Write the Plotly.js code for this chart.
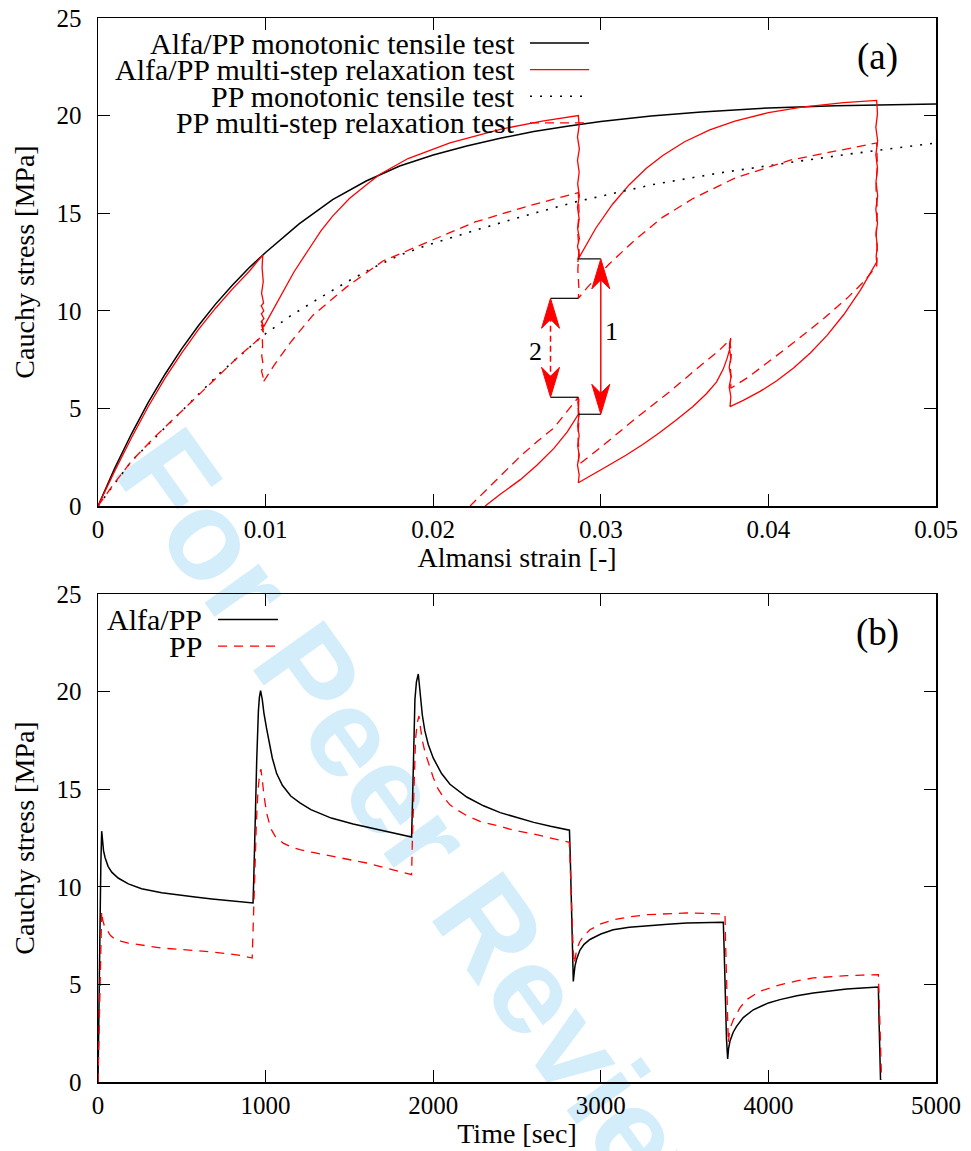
<!DOCTYPE html>
<html>
<head>
<meta charset="utf-8">
<script src="https://cdn.plot.ly/plotly-3.0.1.min.js"></script>
<style>
  html, body { margin: 0; padding: 0; background: #fff; }
  #chart { width: 971px; height: 1151px; }
</style>
</head>
<body>
<div id="chart"></div>
<script>
// ---------- (a) Cauchy stress vs Almansi strain ----------
const alfaMonoStrain = [0, 0.001, 0.002, 0.003, 0.004, 0.005, 0.006, 0.007, 0.008, 0.009, 0.010, 0.012, 0.014,
  0.016, 0.018, 0.020, 0.022, 0.024, 0.026, 0.028, 0.030, 0.033, 0.036, 0.040, 0.044, 0.048, 0.050];
const alfaMonoStress = [0, 1.94, 3.70, 5.31, 6.75, 8.06, 9.25, 10.33, 11.30, 12.19, 12.99, 14.45, 15.70,
  16.65, 17.42, 17.98, 18.44, 18.84, 19.18, 19.46, 19.70, 19.98, 20.19, 20.39, 20.50, 20.57, 20.60];

// loading / holding path of the multi-step test; the holds are noisy, hence the small strain scatter
const alfaRelaxStrain = [
  0, 0.001, 0.002, 0.003, 0.004, 0.005, 0.006, 0.007, 0.008, 0.009, 0.00983,
  0.00979, 0.00986, 0.00976, 0.00988, 0.00974, 0.00989, 0.00975, 0.00990, 0.00974, 0.00989, 0.00976, 0.00988,
  0.00975, 0.00987, 0.00978, 0.00986, 0.00980, 0.00990,
  0.0104, 0.0110, 0.0117, 0.0125, 0.0133, 0.0140, 0.0150, 0.0160, 0.0168, 0.0185, 0.0210, 0.0240, 0.0265, 0.02866,
  0.02871, 0.02861, 0.02872, 0.02861, 0.02871, 0.02862, 0.02872, 0.02861, 0.02871, 0.02862, 0.02872, 0.02861,
  0.02871, 0.02862, 0.02870, 0.02863, 0.02869, 0.02866,
  0.0297, 0.0307, 0.0317, 0.0327, 0.0337, 0.0350, 0.0365, 0.0380, 0.0400, 0.0420, 0.0445, 0.04646,
  0.04651, 0.04641, 0.04652, 0.04641, 0.04651, 0.04642, 0.04652, 0.04641, 0.04651, 0.04642, 0.04650, 0.04643,
  0.04646,
  0.0455, 0.0445, 0.0435, 0.0425, 0.0415, 0.0405, 0.0395, 0.0385, 0.03771,
  0.03776, 0.03766, 0.03777, 0.03766, 0.03776, 0.03767, 0.03775, 0.03768, 0.03771,
  0.03755, 0.0373, 0.0369, 0.0363, 0.0355, 0.0345, 0.0335, 0.0325, 0.0315, 0.0305, 0.0295, 0.02866,
  0.02871, 0.02861, 0.02871, 0.02862, 0.02871, 0.02862, 0.02870, 0.02863, 0.02869, 0.02866,
  0.0280, 0.0272, 0.0262, 0.0252, 0.0240, 0.0231];
const alfaRelaxStress = [
  0, 1.80, 3.50, 5.10, 6.55, 7.85, 9.05, 10.12, 11.10, 12.00, 12.85,
  12.2, 11.5, 10.9, 10.4, 10.25, 10.0, 9.85, 9.6, 9.45, 9.2, 9.05, 8.9,
  9.3, 9.0, 9.5, 9.15, 9.35, 9.2,
  10.0, 10.95, 12.0, 13.05, 14.1, 14.85, 15.75, 16.45, 16.98, 17.8, 18.6, 19.3, 19.72, 20.0,
  19.5, 18.9, 18.3, 17.7, 17.1, 16.5, 15.9, 15.3, 14.7, 14.2, 13.7, 13.3,
  12.9, 12.6, 12.9, 12.5, 12.8, 12.66,
  14.23, 15.46, 16.46, 17.29, 17.96, 18.66, 19.27, 19.72, 20.15, 20.43, 20.66, 20.78,
  20.1, 19.4, 18.7, 18.0, 17.3, 16.6, 15.9, 15.2, 14.5, 13.9, 13.3, 12.8,
  12.5,
  11.07, 9.81, 8.74, 7.84, 7.07, 6.42, 5.87, 5.41, 5.09,
  5.6, 6.1, 6.6, 7.1, 7.6, 8.1, 8.6, 8.3, 8.1,
  7.6, 7.0, 6.35, 5.75, 5.1, 4.4, 3.75, 3.15, 2.6, 2.1, 1.6, 1.19,
  1.6, 2.1, 2.6, 3.1, 3.6, 4.1, 4.7, 5.3, 5.5, 4.70,
  3.8, 2.95, 2.1, 1.35, 0.6, 0];

const ppMonoStrain = [0, 0.002, 0.0048, 0.0072, 0.0098, 0.0115, 0.0133, 0.0150, 0.0164, 0.0180, 0.0196,
  0.0228, 0.0256, 0.0286, 0.0330, 0.0370, 0.0409, 0.0450, 0.0500];
const ppMonoStress = [0, 2.30, 4.70, 6.75, 8.70, 9.75, 10.70, 11.55, 12.20, 12.85, 13.35,
  14.20, 14.90, 15.60, 16.45, 17.05, 17.55, 18.05, 18.60];

const ppRelaxStrain = [
  0, 0.001, 0.002, 0.0034, 0.0048, 0.0060, 0.0072, 0.0085, 0.0098,
  0.00982, 0.00977, 0.00986, 0.00976, 0.00985, 0.00980, 0.0099,
  0.0105, 0.0115, 0.0128, 0.0148, 0.0170, 0.0196, 0.0225, 0.0258, 0.02866,
  0.02870, 0.02862, 0.02870, 0.02863, 0.02869, 0.02866,
  0.0292, 0.0305, 0.0320, 0.0337, 0.0355, 0.0380, 0.0413, 0.0440, 0.04646,
  0.04650, 0.04642, 0.04650, 0.04643, 0.04650, 0.04646,
  0.0457, 0.0447, 0.0433, 0.0417, 0.0401, 0.0388, 0.03775,
  0.03778, 0.03771, 0.03779, 0.03772, 0.03775,
  0.0371, 0.0361, 0.0341, 0.0321, 0.0302, 0.02866,
  0.02870, 0.02863, 0.02870, 0.02864, 0.02866,
  0.0272, 0.0262, 0.0252, 0.0242, 0.0232, 0.0222];
const ppRelaxStress = [
  0, 1.20, 2.30, 3.55, 4.70, 5.70, 6.70, 7.75, 8.70,
  8.2, 7.7, 7.2, 6.9, 6.6, 6.35, 6.4,
  7.2, 8.4, 9.75, 11.2, 12.55, 13.5, 14.55, 15.4, 16.05,
  15.1, 14.1, 13.1, 12.1, 11.2, 10.64,
  11.2, 12.4, 13.6, 14.8, 15.75, 16.8, 17.72, 18.2, 18.6,
  17.5, 16.3, 15.1, 14.0, 13.0, 12.3,
  11.5, 10.65, 9.6, 8.5, 7.45, 6.6, 6.03,
  6.6, 7.2, 7.8, 8.3, 8.55,
  8.0, 7.3, 5.85, 4.5, 3.15, 2.1,
  2.8, 3.6, 4.4, 5.1, 5.57,
  4.0, 3.3, 2.55, 1.7, 0.85, 0];

// stress drops marked by the double arrows at the second hold
const arrowNames = ['1', '2'];
const arrowStrain = [0.0300, 0.0270];
const arrowUpper = [12.66, 10.64];
const arrowLower = [4.70, 5.57];
const holdStrain = 0.02866;

// ---------- (b) Cauchy stress vs time ----------
const alfaTime = [0, 6, 12, 17, 22, 27, 33, 42, 60, 82, 120, 181, 260, 380, 480, 579, 680, 777, 860, 925,
  929, 933, 940, 947, 952, 957, 963, 970, 980, 990, 1006, 1020, 1040, 1066, 1100, 1150, 1205, 1270, 1392, 1522,
  1650, 1760, 1871,
  1875, 1881, 1886, 1891, 1900, 1911, 1918, 1926, 1935, 1950, 1970, 2000, 2050, 2100, 2200, 2300, 2400, 2500,
  2600, 2700, 2813,
  2818, 2824, 2830, 2836, 2840, 2846, 2856, 2875, 2900, 2935, 3000, 3074, 3170, 3273, 3400, 3512, 3620, 3731,
  3736, 3742, 3750, 3757, 3762, 3771, 3790, 3810, 3850, 3910, 4000, 4069, 4170, 4268, 4370, 4467, 4560, 4656,
  4660, 4665, 4669];
const alfaStress = [0, 4.5, 8.5, 11.2, 12.85, 12.2, 11.85, 11.5, 11.05, 10.75, 10.45, 10.15, 9.9, 9.7, 9.58,
  9.48, 9.38, 9.3, 9.22, 9.17,
  10.3, 11.4, 14.0, 16.5, 17.9, 19.0, 19.7, 20.05, 19.6, 18.9, 18.1, 17.5, 16.6, 15.8, 15.2, 14.65, 14.3, 13.95,
  13.52, 13.22, 12.98, 12.78, 12.55,
  13.8, 16.5, 18.3, 19.6, 20.5, 20.9, 20.3, 19.5, 18.8, 18.0, 17.3, 16.6, 15.8, 15.25, 14.6, 14.15, 13.8, 13.55,
  13.3, 13.1, 12.9,
  11.5, 8.8, 6.6, 5.15, 5.5, 5.95, 6.3, 6.75, 7.05, 7.3, 7.58, 7.8, 7.93, 8.01, 8.08, 8.14, 8.17, 8.18,
  6.8, 4.5, 2.2, 1.18, 1.7, 2.1, 2.55, 2.85, 3.3, 3.7, 4.05, 4.22, 4.42, 4.56, 4.67, 4.76, 4.82, 4.87,
  3.2, 1.4, 0.1];

const ppTime = [0, 6, 12, 17, 22, 28, 38, 52, 75, 101, 140, 181, 280, 380, 480, 579, 680, 777, 860, 920,
  925, 935, 945, 955, 965, 972, 980, 990, 1006, 1030, 1060, 1105, 1150, 1205, 1305, 1404, 1500, 1603, 1700,
  1800, 1871,
  1876, 1885, 1895, 1905, 1915, 1925, 1935, 1951, 1981, 2000, 2030, 2060, 2100, 2150, 2200, 2279, 2398, 2478,
  2600, 2700, 2812,
  2816, 2825, 2835, 2842, 2848, 2856, 2875, 2900, 2935, 3000, 3074, 3170, 3273, 3400, 3512, 3620, 3741,
  3745, 3752, 3761, 3767, 3778, 3791, 3830, 3870, 3950, 4069, 4170, 4268, 4370, 4467, 4560, 4656,
  4662, 4668, 4675];
const ppStress = [0, 2.6, 5.0, 7.0, 8.74, 8.3, 8.0, 7.8, 7.5, 7.32, 7.2, 7.12, 6.98, 6.86, 6.8, 6.74, 6.66,
  6.57, 6.47, 6.35,
  7.5, 10.5, 13.3, 15.0, 15.8, 16.03, 15.5, 14.7, 13.78, 13.0, 12.55, 12.24, 12.05, 11.9, 11.72, 11.56, 11.4,
  11.22, 11.0, 10.8, 10.62,
  12.5, 15.5, 17.6, 18.4, 18.75, 18.1, 17.5, 16.9, 16.1, 15.6, 15.0, 14.6, 14.2, 13.9, 13.65, 13.35, 13.1,
  12.9, 12.7, 12.5, 12.28,
  11.5, 9.0, 6.8, 6.05, 6.4, 6.78, 7.2, 7.5, 7.8, 8.1, 8.31, 8.46, 8.57, 8.63, 8.66, 8.64, 8.6,
  7.0, 4.5, 2.0, 2.5, 2.9, 3.19, 3.8, 4.22, 4.65, 4.98, 5.18, 5.33, 5.41, 5.45, 5.48, 5.5,
  4.0, 2.0, 0.1];

// ---------- styling ----------
const FONT = 'Liberation Serif';
const W = 971, H = 1151;
const M = { l: 98, r: 35, t: 18, b: 69 };
const plotW = W - M.l - M.r, plotH = H - M.t - M.b;
const paperX = px => (px - M.l) / plotW;
const paperY = py => (H - M.b - py) / plotH;

const RED = '#ff0000';
const styles = {
  alfaMono:  { color: '#000000', width: 1.5, dash: 'solid' },
  alfaRelax: { color: RED, width: 1.3, dash: 'solid' },
  ppMono:    { color: '#000000', width: 1.6, dash: '2px,8px' },
  ppRelax:   { color: RED, width: 1.3, dash: '9px,6px' }
};

const tracesA = [
  { name: 'Alfa/PP monotonic tensile test', x: alfaMonoStrain, y: alfaMonoStress, line: styles.alfaMono },
  { name: 'Alfa/PP multi-step relaxation test', x: alfaRelaxStrain, y: alfaRelaxStress, line: styles.alfaRelax },
  { name: 'PP monotonic tensile test', x: ppMonoStrain, y: ppMonoStress, line: styles.ppMono },
  { name: 'PP multi-step relaxation test', x: ppRelaxStrain, y: ppRelaxStress, line: styles.ppRelax }
].map(t => Object.assign(t, { type: 'scatter', mode: 'lines', xaxis: 'x', yaxis: 'y', showlegend: false }));

const tracesB = [
  { name: 'Alfa/PP', x: alfaTime, y: alfaStress, line: { color: '#000000', width: 1.5, dash: 'solid' } },
  { name: 'PP', x: ppTime, y: ppStress, line: { color: RED, width: 1.3, dash: '9px,7px' } }
].map(t => Object.assign(t, { type: 'scatter', mode: 'lines', xaxis: 'x2', yaxis: 'y2', showlegend: false }));

const annotations = [];
const shapes = [];

// key drawn gnuplot-style: right-aligned label, sample line to its right
function addKey(traces, textRight, lineFrom, lineTo, firstRow, rowStep) {
  traces.forEach((t, i) => {
    const py = firstRow + i * rowStep;
    annotations.push({
      xref: 'paper', yref: 'paper', x: paperX(textRight), y: paperY(py),
      xanchor: 'right', yanchor: 'middle', showarrow: false, text: t.name,
      font: { family: FONT, size: 30, color: '#000' }
    });
    shapes.push({
      type: 'line', xref: 'paper', yref: 'paper',
      x0: paperX(lineFrom), x1: paperX(lineTo), y0: paperY(py), y1: paperY(py),
      line: { color: t.line.color, width: t.line.width, dash: t.line.dash }
    });
  });
}
addKey(tracesA, 517, 530, 589, 43, 26.6);
addKey(tracesB, 204, 218, 278, 619.5, 26.6);

// panel letters
[['(a)', 57], ['(b)', 633]].forEach(([txt, py]) => {
  annotations.push({
    xref: 'paper', yref: 'paper', x: paperX(877), y: paperY(py), xanchor: 'center', yanchor: 'middle',
    showarrow: false, text: txt, font: { family: FONT, size: 37, color: '#000' }
  });
});

// double arrows with their guide ticks
arrowNames.forEach((label, i) => {
  const xs = arrowStrain[i];
  const left = Math.min(xs, holdStrain), right = Math.max(xs, holdStrain);
  [arrowUpper[i], arrowLower[i]].forEach(yv => {
    shapes.push({ type: 'line', xref: 'x', yref: 'y', x0: left, x1: right, y0: yv, y1: yv,
      line: { color: '#000', width: 1.2 } });
  });
  shapes.push({ type: 'line', xref: 'x', yref: 'y', x0: xs, x1: xs, y0: arrowLower[i] + 0.8, y1: arrowUpper[i] - 0.8,
    line: { color: RED, width: 1.5, dash: i === 0 ? 'solid' : '6px,4px' } });
  shapes.push({ type: 'path', xref: 'x', yref: 'y', xsizemode: 'pixel', ysizemode: 'pixel',
    xanchor: xs, yanchor: arrowUpper[i], path: 'M0,0 L-9,-30 L0,-21 L9,-30 Z',
    fillcolor: RED, line: { color: RED, width: 1 } });
  shapes.push({ type: 'path', xref: 'x', yref: 'y', xsizemode: 'pixel', ysizemode: 'pixel',
    xanchor: xs, yanchor: arrowLower[i], path: 'M0,0 L-9,30 L0,21 L9,30 Z',
    fillcolor: RED, line: { color: RED, width: 1 } });
  annotations.push({ xref: 'x', yref: 'y', x: xs, y: (arrowUpper[i] + arrowLower[i]) / 2,
    xshift: i === 0 ? 11 : -15, yshift: i === 0 ? 5 : -4, showarrow: false, text: label,
    xanchor: 'center', yanchor: 'middle', font: { family: FONT, size: 26, color: '#000' } });
});

// review watermark behind the curves
shapes.push({
  type: 'rect', xref: 'paper', yref: 'paper', layer: 'below',
  x0: paperX(435), x1: paperX(445), y0: paperY(842), y1: paperY(832),
  line: { width: 0 }, fillcolor: 'rgba(0,0,0,0)',
  label: { text: 'For Peer Review', textangle: 54.5, textposition: 'middle center',
    font: { family: 'Liberation Sans', size: 126, color: '#d3edfa', weight: 'bold' } }
});

const axisBase = {
  showline: true, linecolor: '#000', linewidth: 1.5, mirror: 'ticks',
  ticks: 'inside', ticklen: 12, tickwidth: 1, tickcolor: '#000',
  showgrid: false, zeroline: false, automargin: false, fixedrange: true,
  tickfont: { family: FONT, size: 25, color: '#000' }
};
const xTitle = (text, standoff) => ({ text, font: { family: FONT, size: 28, color: '#000' }, standoff });
const yTitle = text => ({ text, font: { family: FONT, size: 28, color: '#000' }, standoff: 13 });

const topBottom = paperY(506), bottomTop = paperY(594);

const layout = {
  width: W, height: H, margin: M,
  paper_bgcolor: '#ffffff', plot_bgcolor: 'rgba(0,0,0,0)',
  showlegend: false,
  xaxis: Object.assign({}, axisBase, { domain: [0, 1], anchor: 'y', range: [0, 0.05], dtick: 0.01, tick0: 0,
    ticklabelstandoff: 0, title: xTitle('Almansi strain [-]', 5) }),
  yaxis: Object.assign({}, axisBase, { domain: [topBottom, 1], anchor: 'x', range: [0, 25], dtick: 5, tick0: 0,
    ticklabelstandoff: 10, title: yTitle('Cauchy stress [MPa]') }),
  xaxis2: Object.assign({}, axisBase, { domain: [0, 1], anchor: 'y2', range: [0, 5000], dtick: 1000, tick0: 0,
    ticklabelstandoff: 0, title: xTitle('Time [sec]', 5) }),
  yaxis2: Object.assign({}, axisBase, { domain: [0, bottomTop], anchor: 'x2', range: [0, 25], dtick: 5, tick0: 0,
    ticklabelstandoff: 10, title: yTitle('Cauchy stress [MPa]') }),
  annotations, shapes
};

Plotly.newPlot('chart', tracesA.concat(tracesB), layout, { staticPlot: true, displayModeBar: false });
</script>
</body>
</html>
